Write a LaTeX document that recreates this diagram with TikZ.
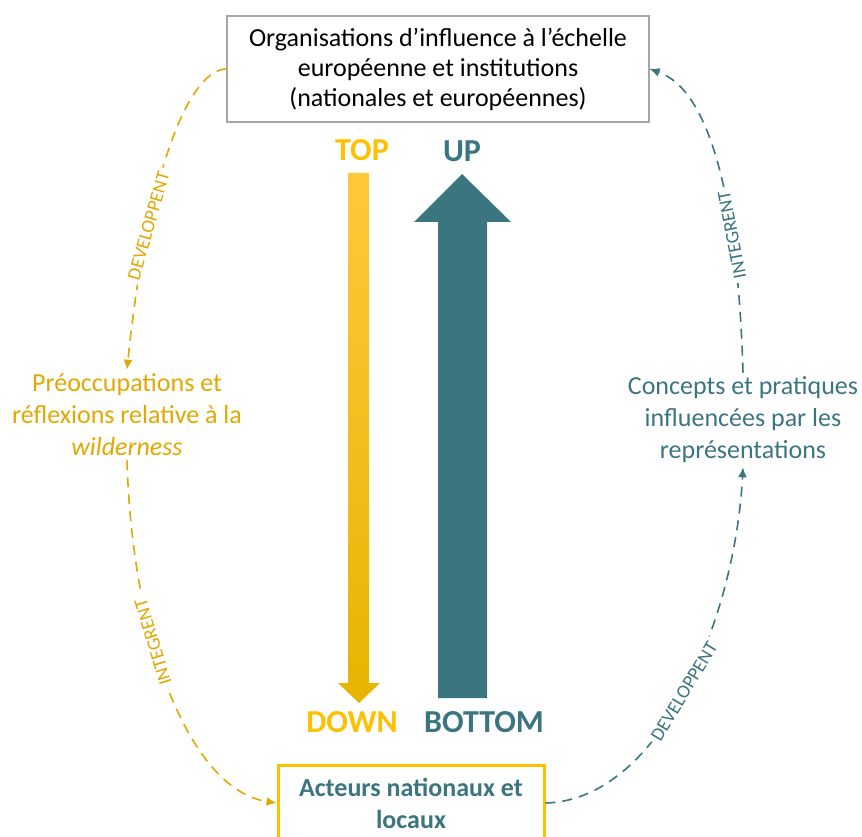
\documentclass[tikz,border=0pt]{standalone}
\usepackage{fontspec}
\setmainfont{Carlito}
\usetikzlibrary{arrows.meta}
\definecolor{gold}{HTML}{E2A800}
\definecolor{brightgold}{HTML}{FFC000}
\definecolor{arrowtop}{HTML}{FFC83C}
\definecolor{arrowbottom}{HTML}{E6B400}
\definecolor{teal}{HTML}{3B7580}
\definecolor{boxgray}{HTML}{A6A6A6}
\begin{document}
\begin{tikzpicture}[x=1pt,y=-1pt,
  linklabel/.style={font=\fontsize{19}{21}\selectfont, fill=white, inner sep=4pt},
  goldlink/.style={draw=gold, line width=1.6pt, dash pattern=on 10pt off 7pt, -{Latex[length=10pt,width=9pt]}},
  teallink/.style={draw=teal, line width=1.6pt, dash pattern=on 10pt off 7pt, -{Latex[length=10pt,width=9pt]}},
  bigword/.style={font=\fontsize{32}{36}\selectfont\bfseries},
  plain/.style={align=center, inner sep=4pt, font=\fontsize{26}{32}\selectfont}
]
\useasboundingbox (0,0) rectangle (862,837);
\begin{scope}
\clip (0,0) rectangle (862,837);

% nodes
\node[plain, draw=boxgray, line width=1.2pt, minimum width=422pt, minimum height=106pt, font=\fontsize{26}{30}\selectfont] (top) at (438,69)
  {Organisations d’influence à l’échelle\\européenne et institutions\\(nationales et européennes)};
\node[plain, text=gold] (preoc) at (127,415)
  {Préoccupations et\\réflexions relative à la\\\textit{wilderness}};
\node[plain, text=teal] (concepts) at (743,420)
  {Concepts et pratiques\\influencées par les\\représentations};
\node[plain, draw=brightgold, line width=3pt, minimum width=266pt, minimum height=76pt, text=teal, font=\fontsize{26}{32}\selectfont\bfseries] (acteurs) at (411,803)
  {Acteurs nationaux et\\locaux};

% big arrows
\path[top color=arrowtop, bottom color=arrowbottom, draw=none]
  (348,173) -- (369,173) -- (369,683) -- (380,683) -- (359,703) -- (338,683) -- (348,683) -- cycle;
\fill[teal] (438,698) -- (487,698) -- (487,222) -- (511,222) -- (462,174) -- (414,222) -- (438,222) -- cycle;

\node[bigword, text=brightgold] (wtop) at (362,150) {TOP};
\node[bigword, text=teal] (wup) at (462,151) {UP};
\node[bigword, text=brightgold] (wdown) at (352,722) {DOWN};
\node[bigword, text=teal] (wbottom) at (484,722) {BOTTOM};

% connectors with their labels
\draw[goldlink] (top.west) .. controls (185,70) and (145,190) .. 
  node[linklabel, text=gold, rotate=74, pos=0.7] (l1) {DEVELOPPENT} (preoc.north);
\draw[goldlink] (preoc.south) .. controls (132,640) and (190,790) .. 
  node[linklabel, text=gold, rotate=107, pos=0.37] (l2) {INTEGRENT} (acteurs.west);
\draw[teallink] (acteurs.east) .. controls (660,800) and (735,620) .. 
  node[linklabel, text=teal, rotate=59, pos=0.5] (l3) {DEVELOPPENT} (concepts.south);
\draw[teallink] (concepts.north) .. controls (738,200) and (710,90) .. 
  node[linklabel, text=teal, rotate=101, pos=0.3] (l4) {INTEGRENT} (top.east);
\end{scope}
\end{tikzpicture}
\end{document}
